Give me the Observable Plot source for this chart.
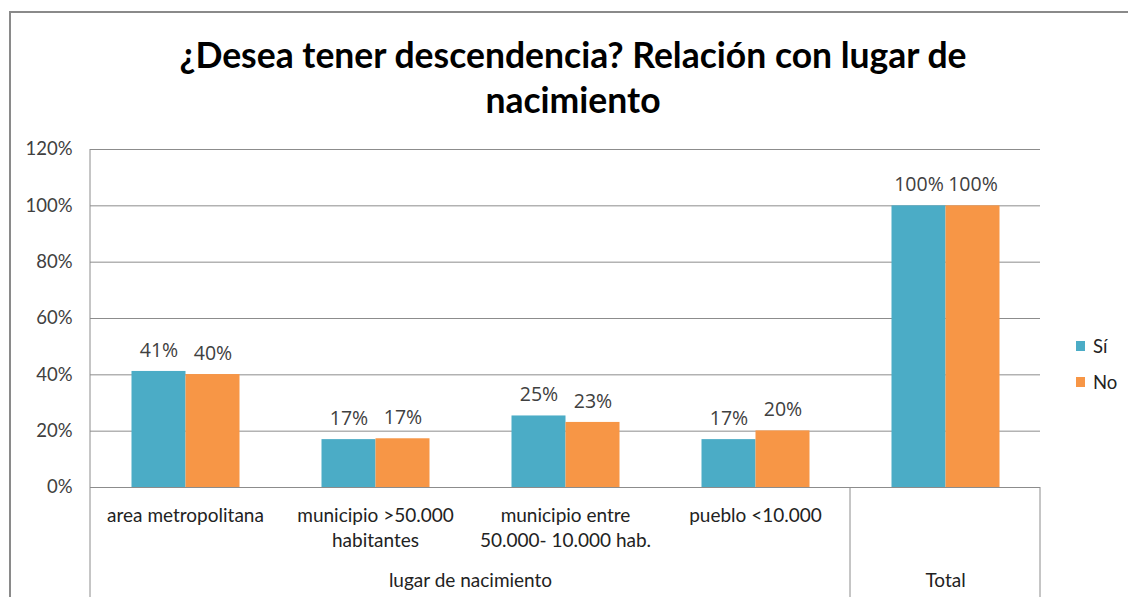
<!DOCTYPE html>
<html>
<head>
<meta charset="utf-8">
<script src="https://cdn.jsdelivr.net/npm/d3@7"></script>
<script src="https://cdn.jsdelivr.net/npm/@observablehq/plot@0.6"></script>
<style>
  html, body { margin: 0; padding: 0; background: #fff; }
  #wrap { position: relative; width: 1128px; height: 597px; overflow: hidden; font-family: Lato, "Open Sans", sans-serif; }
  #border { position: absolute; left: 9px; top: 11px; width: 1200px; height: 700px; border-top: 2px solid #8a8a8a; border-left: 2px solid #8a8a8a; box-sizing: border-box; }
  #title { position: absolute; left: 10px; width: 1126px; top: 32px; text-align: center; font-family: Lato, sans-serif; font-weight: 700; font-size: 35.5px; line-height: 45px; color: #000; }
  #legend { position: absolute; left: 1076px; top: 334px; font-family: Lato, sans-serif; font-size: 18.5px; color: #222; }
  #legend .item { display: flex; align-items: center; height: 24px; margin-bottom: 12px; }
  #legend .sw { width: 9px; height: 10px; margin-right: 8px; }
  #chart { position: absolute; left: 0; top: 0; }
</style>
</head>
<body>
<div id="wrap">
  <div id="chart"></div>
  <div id="border"></div>
  <div id="title">¿Desea tener descendencia? Relación con lugar de<br>nacimiento</div>
  <div id="legend"></div>
</div>
<script>
const categories = ["area metropolitana", "municipio >50.000\nhabitantes", "municipio entre\n50.000- 10.000 hab.", "pueblo <10.000", "Total"];
const series = ["Sí", "No"];
const valuesSi = [41.2, 17.0, 25.4, 17.0, 100];
const valuesNo = [40.1, 17.3, 23.1, 20.1, 100];
const colors = ["#4BACC6", "#F79646"];
const yTicks = [0, 20, 40, 60, 80, 100, 120];
const groupNames = ["lugar de nacimiento", "Total"];

const data = [];
categories.forEach((c, i) => {
  data.push({cat: c, serie: series[0], value: valuesSi[i]});
  data.push({cat: c, serie: series[1], value: valuesNo[i]});
});
const catLabels = categories.slice(0, 4).map(c => ({cat: c}));

const textColor = "#404040";
const gridColor = "#8c8c8c";

const chart = Plot.plot({
  width: 1128,
  height: 597,
  marginTop: 149,
  marginBottom: 110,
  marginLeft: 87.5,
  marginRight: 86,
  style: {fontFamily: "Lato, sans-serif", fontSize: "17px", color: textColor, background: "transparent"},
  fx: {domain: categories, paddingInner: 0, paddingOuter: 0, label: null, axis: null},
  x: {domain: series, paddingInner: 0, paddingOuter: 0.755, axis: null},
  y: {domain: [0, 120], ticks: yTicks, label: null},
  color: {domain: series, range: colors},
  marks: [
    Plot.ruleY(yTicks, {y: d => d, stroke: gridColor, strokeWidth: 1, strokeOpacity: 1}),
    Plot.barY(data, {fx: "cat", x: "serie", y: "value", fill: "serie"}),
    Plot.text(data, {fx: "cat", x: "serie", y: "value", text: d => Math.round(d.value) + "%", dy: -21, fill: textColor, fontSize: 19.5, fontFamily: "'Open Sans', sans-serif"}),
    Plot.axisY({ticks: yTicks, tickFormat: d => d + "%", tickSize: 0, tickPadding: 18, fontSize: 18.5, fill: textColor, label: null}),
    Plot.text(catLabels, {fx: "cat", text: "cat", frameAnchor: "bottom", lineAnchor: "top", dy: 17, lineHeight: 1.3, fontSize: 19, fill: "#222"}),
    Plot.text([{at: categories[2], label: groupNames[0]}], {fx: "at", text: "label", frameAnchor: "bottom-left", textAnchor: "middle", dy: 99, fontSize: 19, fill: "#222"}),
    Plot.text([{at: categories[4], label: groupNames[1]}], {fx: "at", text: "label", frameAnchor: "bottom", textAnchor: "middle", dy: 99, fontSize: 19, fill: "#222"})
  ]
});

document.getElementById("chart").appendChild(chart);

// Excel-style multi-level axis dividers, positioned from the library's scales
const fx = chart.scale("fx");
const y = chart.scale("y");
const svg = d3.select(chart);
const bw = fx.bandwidth;
const bottom = 597;
const lines = [
  {x: fx.apply(categories[0]), y1: y.apply(120), y2: bottom},
  {x: fx.apply(categories[4]), y1: y.apply(0), y2: bottom},
  {x: fx.apply(categories[4]) + bw, y1: y.apply(0), y2: bottom}
];
svg.append("g").selectAll("line").data(lines).join("line")
  .attr("x1", d => d.x).attr("x2", d => d.x)
  .attr("y1", d => d.y1).attr("y2", d => d.y2)
  .attr("stroke", gridColor).attr("stroke-width", 1);

// legend
const legend = d3.select("#legend");
series.forEach((s, i) => {
  const it = legend.append("div").attr("class", "item");
  it.append("div").attr("class", "sw").style("background", colors[i]);
  it.append("span").text(s);
});
</script>
</body>
</html>
